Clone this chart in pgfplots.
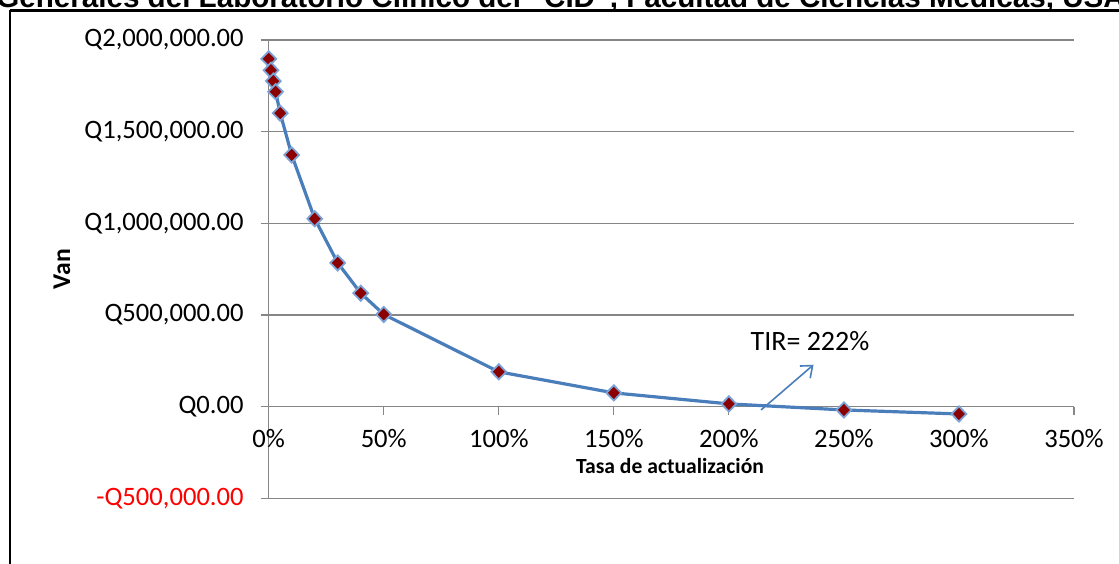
\documentclass[border=0pt]{standalone}
\usepackage{fontspec}
\setmainfont{Carlito}
\newfontfamily\titlefont{Liberation Sans}
\usepackage{pgfplots}
\pgfplotsset{compat=1.18}
\usetikzlibrary{arrows.meta}

\definecolor{gridgray}{HTML}{868686}
\definecolor{xlblue}{HTML}{4A7EBB}
\definecolor{mkred}{HTML}{8B0000}
\definecolor{mkedge}{HTML}{7BA3D6}

\pgfplotstableread{
tasa  van
0     1897000
1     1835000
2     1776000
3     1718000
5     1601000
10    1373000
20    1025000
30    784000
40    619000
50    503000
100   190000
150   75000
200   15000
250   -18000
300   -40000
}\vantable

\begin{document}
\begin{tikzpicture}
\useasboundingbox (0,0) rectangle (559.5pt,281.5pt);
\clip (0,0) rectangle (559.5pt,281.5pt);

\begin{axis}[
  at={(134.35pt,32.35pt)}, anchor=south west,
  scale only axis, width=402.65pt, height=229.15pt,
  xmin=0, xmax=350, ymin=-500000, ymax=2000000,
  axis x line=middle, axis y line=left,
  axis line style={-, draw=gridgray, line width=0.6pt},
  hide obscured x ticks=false, hide obscured y ticks=false,
  ymajorgrids, grid style={gridgray, line width=0.6pt},
  scaled y ticks=false,
  xtick={0,50,...,350},
  xticklabels={0\%,50\%,100\%,150\%,200\%,250\%,300\%,350\%},
  ytick={-500000,0,500000,1000000,1500000,2000000},
  yticklabels={{\color{red}-Q500,000.00},{Q0.00},{Q500,000.00},{Q1,000,000.00},{Q1,500,000.00},{Q2,000,000.00}},
  tick style={gridgray, line width=0.6pt},
  xtick align=outside, ytick align=outside, major tick length=4pt,
  minor tick num=0,
  tick label style={font=\fontsize{13.3}{15}\selectfont},
  x tick label style={yshift=-4pt},
  y tick label style={xshift=-5pt},
  clip=false,
]
\addplot[color=xlblue, line width=1.6pt,
  mark=diamond*, mark size=3.8pt,
  mark options={fill=mkred, draw=mkedge, line width=0.9pt, xscale=1.3}]
  table[x=tasa, y=van] {\vantable};
\draw[xlblue, line width=0.8pt, -{Straight Barb[length=5pt,width=8pt]}]
  (axis cs:214,-18000) -- (axis cs:236.8,228600);
\end{axis}

\begin{scope}[x=0.5pt, y=-0.5pt, yshift=281.5pt]
  % marco exterior del grafico
  \draw[black, line width=1.2pt] (10,10.5) -- (1300,10.5);
  \draw[black, line width=1.2pt] (10,10.5) -- (10,700);
  % titulo cortado arriba
  \node[anchor=base west, inner sep=0pt, font=\titlefont\bfseries\fontsize{14.8}{16}\selectfont]
    at (-4,8) {Generales del Laboratorio Clínico del “CID”, Facultad de Ciencias Médicas, USAC};
  \node[rotate=90, font=\bfseries\fontsize{12.8}{15}\selectfont] at (62,269) {Van};
  \node[font=\bfseries\fontsize{10.8}{13}\selectfont] at (670,466) {Tasa de actualización};
  \node[font=\fontsize{14}{16}\selectfont] at (810,341) {TIR= 222\%};
\end{scope}
\end{tikzpicture}
\end{document}
